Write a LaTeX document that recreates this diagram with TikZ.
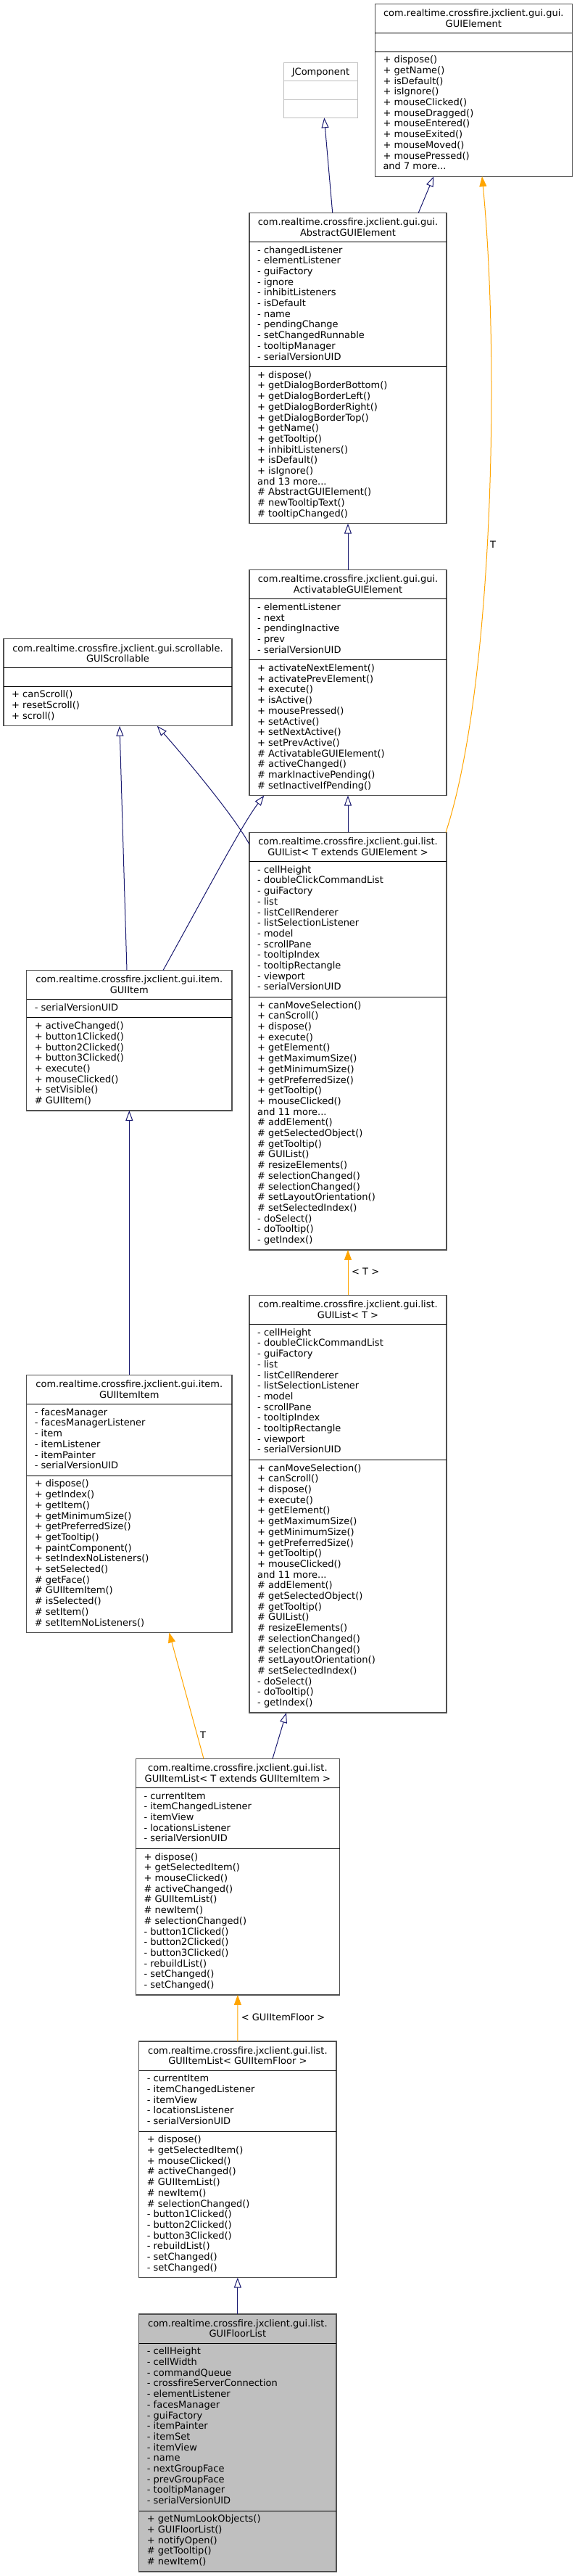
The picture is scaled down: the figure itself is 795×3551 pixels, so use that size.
\documentclass[tikz,border=0pt]{standalone}
\usepackage{fontspec}
\setmainfont{DejaVu Sans}
\usetikzlibrary{arrows.meta,calc}
\definecolor{edgeblue}{HTML}{191970}
\definecolor{tmplorange}{HTML}{FFA500}
\definecolor{boxborder}{HTML}{505050}
\definecolor{lightborder}{HTML}{BFBFBF}
\definecolor{hlfill}{HTML}{BFBFBF}
\newcommand{\fnt}{\fontsize{13}{14.7}\selectfont}
\newcommand{\ustrut}{\rule{0pt}{10.4pt}}
% #1 name, #2 left, #3 right, #4 top, #5 n attrs, #6 n methods, #7 style
\newcommand{\umlclass}[7]{%
  \pgfmathsetmacro{\ucA}{#4+40}%
  \pgfmathsetmacro{\ucB}{\ucA+ifthenelse(#5==0,25.3,#5*14.7+10.5)}%
  \pgfmathsetmacro{\ucC}{\ucB+ifthenelse(#6==0,25.3,#6*14.7+10.5)}%
  \pgfmathsetmacro{\ucW}{#3-#2}%
  \pgfmathsetmacro{\ucH}{\ucC-#4}%
  \node[#7, minimum width=\ucW pt, minimum height=\ucH pt, anchor=north west] (#1) at (#2,#4) {};
  \draw[sepline] (#2,\ucA) -- (#3,\ucA);
  \draw[sepline] (#2,\ucB) -- (#3,\ucB);
  \coordinate (#1-t) at ({(#2+#3)/2},{#4+6.6});
  \coordinate (#1-a) at ({#2+11},{\ucA+5.2});
  \coordinate (#1-m) at ({#2+11},{\ucB+5.2});
}
\tikzset{
  clsbox/.style={draw=boxborder, line width=1.2pt, fill=white, inner sep=0pt, outer sep=0pt},
  hlbox/.style={clsbox, fill=hlfill},
  lightbox/.style={draw=lightborder, line width=1.2pt, fill=white, inner sep=0pt, outer sep=0pt},
  sepline/.style={draw=black, line width=0.9pt},
  lightsep/.style={draw=lightborder, line width=0.9pt},
  ttl/.style={anchor=north, align=center, inner sep=0pt, font=\fnt, text=black},
  mem/.style={anchor=north west, align=left, inner sep=0pt, font=\fnt, text=black},
  lbl/.style={inner sep=0pt, font=\fnt, text=black},
  inh/.style={draw=edgeblue, line width=1pt, -{Triangle[length=14pt,width=10pt,fill=white]}},
  tmpl/.style={draw=tmplorange, line width=1pt, -{Triangle[length=14pt,width=10pt,fill=tmplorange]}}
}
\begin{document}
\begin{tikzpicture}[x=1pt,y=-1pt]
\useasboundingbox (0,0) rectangle (795,3551);
\fill[white] (0,0) rectangle (795,3551);

% ---------- GUIElement
\umlclass{ge}{517.3}{789.3}{5.7}{0}{11}{clsbox}
\node[ttl] (ge-title) at (ge-t) {\ustrut com.realtime.crossfire.jxclient.gui.gui.\\GUIElement};
\node[mem] (ge-meth) at (ge-m) {\ustrut + dispose()\\+ getName()\\+ isDefault()\\+ isIgnore()\\+ mouseClicked()\\+ mouseDragged()\\+ mouseEntered()\\+ mouseExited()\\+ mouseMoved()\\+ mousePressed()\\and 7 more...};

% ---------- JComponent
\node[lightbox, minimum width=101.6pt, minimum height=75.9pt, anchor=north west] (jc) at (391.7,86.4) {};
\draw[lightsep] (391.7,111.7) -- (493.3,111.7);
\draw[lightsep] (391.7,137) -- (493.3,137);
\node[ttl] (jc-title) at (442.5,92.6) {\ustrut JComponent};

% ---------- AbstractGUIElement
\umlclass{age}{344}{616}{293.2}{11}{14}{clsbox}
\node[ttl] (age-title) at (age-t) {\ustrut com.realtime.crossfire.jxclient.gui.gui.\\AbstractGUIElement};
\node[mem] (age-attr) at (age-a) {\ustrut - changedListener\\- elementListener\\- guiFactory\\- ignore\\- inhibitListeners\\- isDefault\\- name\\- pendingChange\\- setChangedRunnable\\- tooltipManager\\- serialVersionUID};
\node[mem] (age-meth) at (age-m) {\ustrut + dispose()\\+ getDialogBorderBottom()\\+ getDialogBorderLeft()\\+ getDialogBorderRight()\\+ getDialogBorderTop()\\+ getName()\\+ getTooltip()\\+ inhibitListeners()\\+ isDefault()\\+ isIgnore()\\and 13 more...\\\# AbstractGUIElement()\\\# newTooltipText()\\\# tooltipChanged()};

% ---------- ActivatableGUIElement
\umlclass{act}{344}{616}{785.7}{5}{12}{clsbox}
\node[ttl] (act-title) at (act-t) {\ustrut com.realtime.crossfire.jxclient.gui.gui.\\ActivatableGUIElement};
\node[mem] (act-attr) at (act-a) {\ustrut - elementListener\\- next\\- pendingInactive\\- prev\\- serialVersionUID};
\node[mem] (act-meth) at (act-m) {\ustrut + activateNextElement()\\+ activatePrevElement()\\+ execute()\\+ isActive()\\+ mousePressed()\\+ setActive()\\+ setNextActive()\\+ setPrevActive()\\\# ActivatableGUIElement()\\\# activeChanged()\\\# markInactivePending()\\\# setInactiveIfPending()};

% ---------- GUIScrollable
\umlclass{scr}{5}{320}{880.8}{0}{3}{clsbox}
\node[ttl] (scr-title) at (scr-t) {\ustrut com.realtime.crossfire.jxclient.gui.scrollable.\\GUIScrollable};
\node[mem] (scr-meth) at (scr-m) {\ustrut + canScroll()\\+ resetScroll()\\+ scroll()};

% ---------- GUIList< T extends GUIElement >
\umlclass{gla}{344}{616}{1147.4}{12}{23}{clsbox}
\node[ttl] (gla-title) at (gla-t) {\ustrut com.realtime.crossfire.jxclient.gui.list.\\GUIList< T extends GUIElement >};
\node[mem] (gla-attr) at (gla-a) {\ustrut - cellHeight\\- doubleClickCommandList\\- guiFactory\\- list\\- listCellRenderer\\- listSelectionListener\\- model\\- scrollPane\\- tooltipIndex\\- tooltipRectangle\\- viewport\\- serialVersionUID};
\node[mem] (gla-meth) at (gla-m) {\ustrut + canMoveSelection()\\+ canScroll()\\+ dispose()\\+ execute()\\+ getElement()\\+ getMaximumSize()\\+ getMinimumSize()\\+ getPreferredSize()\\+ getTooltip()\\+ mouseClicked()\\and 11 more...\\\# addElement()\\\# getSelectedObject()\\\# getTooltip()\\\# GUIList()\\\# resizeElements()\\\# selectionChanged()\\\# selectionChanged()\\\# setLayoutOrientation()\\\# setSelectedIndex()\\- doSelect()\\- doTooltip()\\- getIndex()};

% ---------- GUIItem
\umlclass{gi}{36.7}{320}{1337.6}{1}{8}{clsbox}
\node[ttl] (gi-title) at (gi-t) {\ustrut com.realtime.crossfire.jxclient.gui.item.\\GUIItem};
\node[mem] (gi-attr) at (gi-a) {\ustrut - serialVersionUID};
\node[mem] (gi-meth) at (gi-m) {\ustrut + activeChanged()\\+ button1Clicked()\\+ button2Clicked()\\+ button3Clicked()\\+ execute()\\+ mouseClicked()\\+ setVisible()\\\# GUIItem()};

% ---------- GUIList< T >
\umlclass{glb}{344}{616}{1785.4}{12}{23}{clsbox}
\node[ttl] (glb-title) at (glb-t) {\ustrut com.realtime.crossfire.jxclient.gui.list.\\GUIList< T >};
\node[mem] (glb-attr) at (glb-a) {\ustrut - cellHeight\\- doubleClickCommandList\\- guiFactory\\- list\\- listCellRenderer\\- listSelectionListener\\- model\\- scrollPane\\- tooltipIndex\\- tooltipRectangle\\- viewport\\- serialVersionUID};
\node[mem] (glb-meth) at (glb-m) {\ustrut + canMoveSelection()\\+ canScroll()\\+ dispose()\\+ execute()\\+ getElement()\\+ getMaximumSize()\\+ getMinimumSize()\\+ getPreferredSize()\\+ getTooltip()\\+ mouseClicked()\\and 11 more...\\\# addElement()\\\# getSelectedObject()\\\# getTooltip()\\\# GUIList()\\\# resizeElements()\\\# selectionChanged()\\\# selectionChanged()\\\# setLayoutOrientation()\\\# setSelectedIndex()\\- doSelect()\\- doTooltip()\\- getIndex()};

% ---------- GUIItemItem
\umlclass{gii}{36.7}{320}{1895.4}{6}{14}{clsbox}
\node[ttl] (gii-title) at (gii-t) {\ustrut com.realtime.crossfire.jxclient.gui.item.\\GUIItemItem};
\node[mem] (gii-attr) at (gii-a) {\ustrut - facesManager\\- facesManagerListener\\- item\\- itemListener\\- itemPainter\\- serialVersionUID};
\node[mem] (gii-meth) at (gii-m) {\ustrut + dispose()\\+ getIndex()\\+ getItem()\\+ getMinimumSize()\\+ getPreferredSize()\\+ getTooltip()\\+ paintComponent()\\+ setIndexNoListeners()\\+ setSelected()\\\# getFace()\\\# GUIItemItem()\\\# isSelected()\\\# setItem()\\\# setItemNoListeners()};

% ---------- GUIItemList< T extends GUIItemItem >
\umlclass{gila}{187.3}{468.5}{2424.3}{5}{13}{clsbox}
\node[ttl] (gila-title) at (gila-t) {\ustrut com.realtime.crossfire.jxclient.gui.list.\\GUIItemList< T extends GUIItemItem >};
\node[mem] (gila-attr) at (gila-a) {\ustrut - currentItem\\- itemChangedListener\\- itemView\\- locationsListener\\- serialVersionUID};
\node[mem] (gila-meth) at (gila-m) {\ustrut + dispose()\\+ getSelectedItem()\\+ mouseClicked()\\\# activeChanged()\\\# GUIItemList()\\\# newItem()\\\# selectionChanged()\\- button1Clicked()\\- button2Clicked()\\- button3Clicked()\\- rebuildList()\\- setChanged()\\- setChanged()};

% ---------- GUIItemList< GUIItemFloor >
\umlclass{gilb}{191.7}{464}{2814}{5}{13}{clsbox}
\node[ttl] (gilb-title) at (gilb-t) {\ustrut com.realtime.crossfire.jxclient.gui.list.\\GUIItemList< GUIItemFloor >};
\node[mem] (gilb-attr) at (gilb-a) {\ustrut - currentItem\\- itemChangedListener\\- itemView\\- locationsListener\\- serialVersionUID};
\node[mem] (gilb-meth) at (gilb-m) {\ustrut + dispose()\\+ getSelectedItem()\\+ mouseClicked()\\\# activeChanged()\\\# GUIItemList()\\\# newItem()\\\# selectionChanged()\\- button1Clicked()\\- button2Clicked()\\- button3Clicked()\\- rebuildList()\\- setChanged()\\- setChanged()};

% ---------- GUIFloorList
\umlclass{gfl}{191.7}{464}{3190}{15}{5}{hlbox}
\node[ttl] (gfl-title) at (gfl-t) {\ustrut com.realtime.crossfire.jxclient.gui.list.\\GUIFloorList};
\node[mem] (gfl-attr) at (gfl-a) {\ustrut - cellHeight\\- cellWidth\\- commandQueue\\- crossfireServerConnection\\- elementListener\\- facesManager\\- guiFactory\\- itemPainter\\- itemSet\\- itemView\\- name\\- nextGroupFace\\- prevGroupFace\\- tooltipManager\\- serialVersionUID};
\node[mem] (gfl-meth) at (gfl-m) {\ustrut + getNumLookObjects()\\+ GUIFloorList()\\+ notifyOpen()\\\# getTooltip()\\\# newItem()};

% ---------- connectors
\draw[inh] ($(age.north)+(97.3,0)$) -- ($(ge.south)+(-55,0)$);
\draw[inh] ($(age.north)+(-21.3,0)$) -- ($(jc.south)+(4.8,0)$);
\draw[inh] (act.north) -- (age.south);
\draw[inh] (gla.north) -- (act.south);
\draw[inh] ($(gi.north)+(46.65,0)$) .. controls (290,1220) and (335,1135) .. ($(act.south)+(-115.7,0)$);
\draw[inh] ($(gla.north west)+(0,16.6)$) .. controls (325,1128) and (262,1052) .. ($(scr.south)+(54.2,0)$);
\draw[inh] ($(gi.north)+(-3.35,0)$) -- ($(scr.south)+(2.5,0)$);
\draw[tmpl] (glb.north) -- (gla.south);
\draw[tmpl] ($(gla.north east)+(-1,0)$) .. controls (680,950) and (690,500) .. ($(ge.south)+(11.7,0)$);
\draw[inh] (gii.north) -- (gi.south);
\draw[tmpl] ($(gila.north)+(-46.9,0)$) -- ($(gii.south)+(55,0)$);
\draw[inh] ($(gila.north)+(48.1,0)$) -- ($(glb.south)+(-85,0)$);
\draw[tmpl] (gilb.north) -- (gila.south);
\draw[inh] (gfl.north) -- (gilb.south);

% ---------- edge labels
\node[lbl] (lab-ge) at (680,751) {T};
\node[lbl, anchor=west] (lab-gl) at (485,1752.4) {< T >};
\node[lbl] (lab-gii) at (280,2392) {T};
\node[lbl, anchor=west] (lab-gil) at (332.7,2780.7) {< GUIItemFloor >};
\end{tikzpicture}
\end{document}
